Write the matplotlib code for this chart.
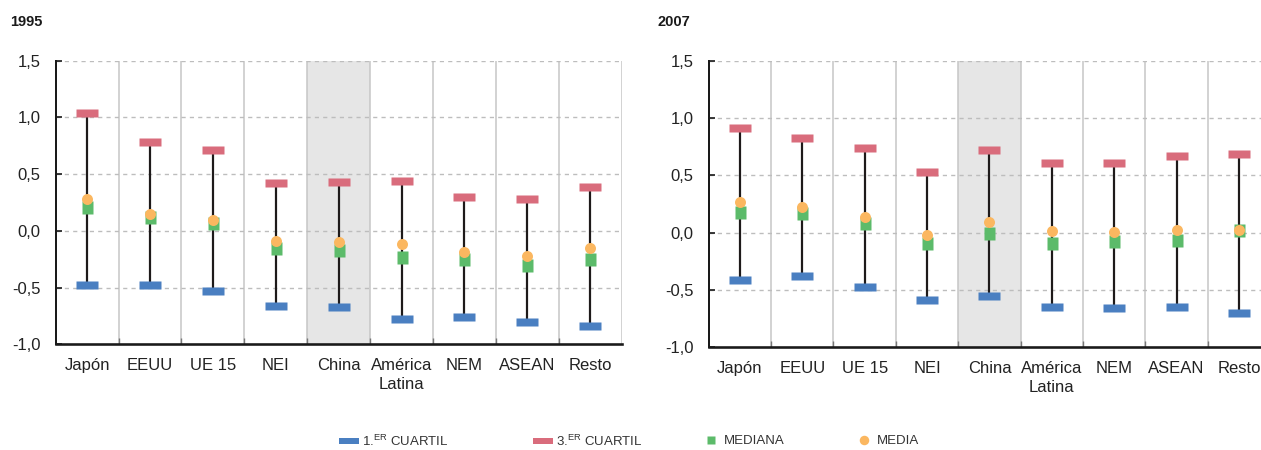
import matplotlib
matplotlib.use("Agg")
import matplotlib.pyplot as plt
from matplotlib.lines import Line2D
from matplotlib.path import Path
import numpy as np

plt.rcParams['font.family'] = ['Liberation Sans', 'DejaVu Sans']
plt.rcParams['mathtext.fontset'] = 'custom'
plt.rcParams['mathtext.rm'] = 'Liberation Sans'

categories = ["Japón", "EEUU", "UE 15", "NEI", "China", "América\nLatina", "NEM", "ASEAN", "Resto"]
highlight = "China"

# 1995
q1_1995 = [-0.48, -0.48, -0.53, -0.66, -0.67, -0.78, -0.76, -0.80, -0.84]
q3_1995 = [1.035, 0.78, 0.71, 0.42, 0.43, 0.44, 0.30, 0.28, 0.39]
med_1995 = [0.21, 0.12, 0.065, -0.155, -0.17, -0.23, -0.25, -0.305, -0.25]
mean_1995 = [0.28, 0.145, 0.095, -0.09, -0.10, -0.12, -0.19, -0.22, -0.15]

# 2007
q1_2007 = [-0.41, -0.38, -0.47, -0.585, -0.55, -0.645, -0.655, -0.645, -0.70]
q3_2007 = [0.91, 0.83, 0.735, 0.53, 0.72, 0.605, 0.605, 0.665, 0.685]
med_2007 = [0.18, 0.17, 0.08, -0.09, -0.005, -0.09, -0.075, -0.065, 0.02]
mean_2007 = [0.27, 0.22, 0.135, -0.02, 0.095, 0.015, 0.01, 0.023, 0.023]

yticks = [-1.0, -0.5, 0.0, 0.5, 1.0, 1.5]
ytick_labels = ["-1,0", "-0,5", "0,0", "0,5", "1,0", "1,5"]

legend_labels = ["1.$^{\\mathrm{ER}}$ CUARTIL", "3.$^{\\mathrm{ER}}$ CUARTIL", "MEDIANA", "MEDIA"]

C_Q1 = "#4a7fc1"
C_Q3 = "#d96c7c"
C_MED = "#5cbb6a"
C_MEAN = "#fbb760"
C_LINE = "#1e1a1a"

DPI = 100
px = 72.0 / DPI  # points per pixel

quart_marker = Path([(-11, -4), (11, -4), (11, 4), (-11, 4), (-11, -4)],
                    [Path.MOVETO, Path.LINETO, Path.LINETO, Path.LINETO, Path.CLOSEPOLY])
med_marker = Path([(-5.5, -6.5), (5.5, -6.5), (5.5, 6.5), (-5.5, 6.5), (-5.5, -6.5)],
                  [Path.MOVETO, Path.LINETO, Path.LINETO, Path.LINETO, Path.CLOSEPOLY])

fig = plt.figure(figsize=(12.61, 4.5), dpi=DPI)

def panel(rect, q1, q3, med, mean, title, title_x):
    ax = fig.add_axes(rect)
    x = np.arange(len(categories))
    ax.set_xlim(-0.5, len(categories) - 0.5)
    ax.set_ylim(-1.0, 1.5)
    hi = categories.index(highlight)
    ax.axvspan(hi - 0.5, hi + 0.5, color="#e6e6e6", zorder=0, lw=0)
    for b in np.arange(0.5, len(categories), 1.0):
        ax.axvline(b, color="#c6c6c6", lw=1.1, zorder=1)
    for yv in yticks[1:]:
        ax.axhline(yv, color="#bdbdbd", lw=1.0, ls=(0, (3, 3)), zorder=1)
    ax.vlines(x, q1, q3, color=C_LINE, lw=2.2 * px, zorder=3)
    ax.plot(x, q3, ls="none", marker=quart_marker, ms=22 * px, mfc=C_Q3, mec="none", zorder=4)
    ax.plot(x, q1, ls="none", marker=quart_marker, ms=22 * px, mfc=C_Q1, mec="none", zorder=4)
    ax.plot(x, med, ls="none", marker=med_marker, ms=13 * px, mfc=C_MED, mec="none", zorder=5)
    ax.plot(x, mean, ls="none", marker="o", ms=11 * px, mfc=C_MEAN, mec="none", zorder=6)

    for s in ["top", "right"]:
        ax.spines[s].set_visible(False)
    ax.spines["left"].set_linewidth(2.0 * px)
    ax.spines["left"].set_color("#1a1a1a")
    ax.spines["bottom"].set_linewidth(2.6 * px)
    ax.spines["bottom"].set_color("#1a1a1a")

    ax.set_yticks(yticks)
    ax.set_yticklabels(ytick_labels)
    ax.tick_params(axis="y", direction="in", length=4, width=1.2, color="#1a1a1a",
                   labelsize=12, pad=11, labelcolor="#222222")
    ax.set_xticks(x)
    ax.set_xticklabels(categories, linespacing=1.28)
    ax.tick_params(axis="x", which="major", length=0, labelsize=12, pad=10, labelcolor="#222222")
    ax.set_xticks(np.arange(0.5, len(categories) - 1, 1.0), minor=True)
    ax.tick_params(axis="x", which="minor", direction="in", length=4, width=1.0, color="#777777")
    fig.text(title_x / 1261, 1 - 22 / 450, title, fontsize=10.5, fontweight="bold",
             color="#1a1a1a", va="center", ha="left")
    return ax

panel([55.7 / 1261, (450 - 344.3) / 450, 566 / 1261, 283.6 / 450],
      q1_1995, q3_1995, med_1995, mean_1995, "1995", 10)
panel([708.7 / 1261, (450 - 347.3) / 450, 561.5 / 1261, 286.6 / 450],
      q1_2007, q3_2007, med_2007, mean_2007, "2007", 658)

handles = [
    Line2D([], [], color=C_Q1, lw=6 * px),
    Line2D([], [], color=C_Q3, lw=6 * px),
    Line2D([], [], ls="none", marker="s", ms=8 * px, mfc=C_MED, mec="none"),
    Line2D([], [], ls="none", marker="o", ms=9.5 * px, mfc=C_MEAN, mec="none"),
]
# left edge (px) of each legend entry's handle in the reference
entry_x = [342, 536, 704, 857]
for h, lab, ex in zip(handles, legend_labels, entry_x):
    leg = fig.legend([h], [lab], loc="center left", bbox_to_anchor=(ex / 1261, 1 - 441 / 450),
                     frameon=False, handlelength=1.08, handletextpad=0.4, borderpad=0,
                     borderaxespad=0,
                     prop={"size": 9.5}, labelcolor="#333333")

fig.savefig("out.png", dpi=DPI)
